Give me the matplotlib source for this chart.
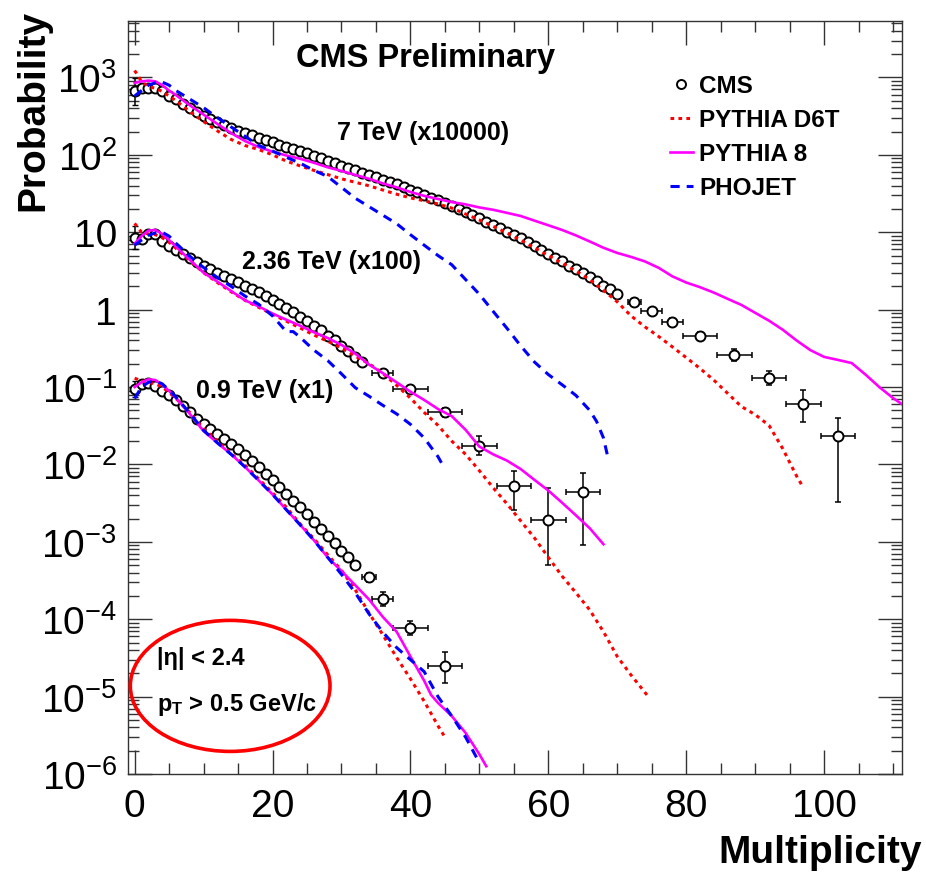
import numpy as np
import matplotlib
matplotlib.use("Agg")
import matplotlib.pyplot as plt
from matplotlib.patches import Ellipse
from matplotlib.ticker import LogLocator, NullFormatter

plt.rcParams["font.family"] = ["Liberation Sans", "DejaVu Sans"]
plt.rcParams["mathtext.fontset"] = "custom"
plt.rcParams["mathtext.rm"] = "Liberation Sans"
plt.rcParams["mathtext.it"] = "Liberation Sans:italic"
plt.rcParams["mathtext.bf"] = "Liberation Sans:bold"

# --- CMS data, 0.9 TeV (x1) ---
p_09 = [0.095, 0.11, 0.113, 0.104, 0.09, 0.079, 0.067, 0.057, 0.048, 0.039,
        0.033, 0.0288, 0.0247, 0.0213, 0.0184, 0.0158, 0.0132, 0.0112, 0.0092, 0.0075,
        0.0062, 0.0051, 0.0041, 0.0034, 0.0028, 0.0023, 0.0018, 0.00146, 0.0012, 0.00097,
        0.00077, 0.00063, 0.0005]
n_09_tail = [34, 36, 40, 45]
p_09_tail = [3.5e-4, 1.85e-4, 7.7e-5, 2.5e-5]
xerr_09_tail = [1, 1.5, 2.5, 2.5]
lo_09_tail = [0.45e-4, 0.35e-4, 1.5e-5, 1.0e-5]
hi_09_tail = [0.5e-4, 0.42e-4, 1.9e-5, 1.3e-5]
err0_09 = (0.0196, 0.0246)

# --- CMS data, 2.36 TeV (x100) ---
p_236 = [8.5, 8.2, 9.6, 9.4, 7.8, 6.7, 5.9, 5.2, 4.6, 4.1,
         3.7, 3.3, 3.0, 2.74, 2.48, 2.25, 2.04, 1.84, 1.67, 1.51,
         1.34, 1.18, 1.05, 0.92, 0.81, 0.71, 0.62, 0.54, 0.46, 0.40,
         0.34, 0.29, 0.245, 0.21]
n_236_tail = [36, 40, 45, 50, 55, 60, 65]
p_236_tail = [0.15, 0.094, 0.047, 0.0175, 0.0052, 0.0019, 0.0044]
xerr_236_tail = [1.5, 2.5, 2.5, 2.5, 2.5, 2.5, 2.5]
lo_236_tail = [0.012, 0.006, 0.006, 0.0042, 0.0026, 0.0014, 0.0035]
hi_236_tail = [0.012, 0.006, 0.006, 0.0056, 0.0031, 0.0031, 0.0034]
err0_236 = (2.5, 3.5)

# --- CMS data, 7 TeV (x10000) ---
p_7 = [660, 725, 740, 725, 660, 575, 525, 455, 400, 355,
       320, 290, 263, 240, 221, 204, 190, 178, 166, 155,
       145, 135, 126, 119, 112, 105, 98, 90, 83, 78,
       72, 68, 63, 59, 55, 51, 48, 45, 42, 38.5,
       35.5, 32.7, 30.2, 27.9, 25.7, 23.7, 21.9, 20.0, 18.2, 16.6,
       15.1, 13.7, 12.4, 11.2, 10.2, 9.2, 8.3, 7.4, 6.6, 5.9,
       5.2, 4.7, 4.2, 3.7, 3.3, 2.95, 2.63, 2.34, 2.04, 1.82,
       1.58]
n_7_tail = [72.5, 75, 78, 82, 87, 92, 97, 102]
p_7_tail = [1.24, 0.97, 0.70, 0.45, 0.26, 0.13, 0.060, 0.023]
xerr_7_tail = [1, 1.5, 1.5, 2.5, 2.5, 2.5, 2.5, 2.5]
lo_7_tail = [0.08, 0.07, 0.07, 0.05, 0.04, 0.025, 0.025, 0.0197]
hi_7_tail = [0.08, 0.08, 0.08, 0.06, 0.05, 0.03, 0.031, 0.017]
err0_7 = (214, 316)

# --- PYTHIA D6T ---
x_d6t_09 = [0, 1, 2, 3, 4, 5, 6] + list(range(8, 45, 2)) + [45]
y_d6t_09 = [0.13, 0.12, 0.115, 0.11, 0.1, 0.085, 0.071, 0.047, 0.029, 0.020,
            0.0138, 0.0098, 0.0065, 0.0043, 0.0028, 0.0017, 0.0011, 6.8e-4, 4.3e-4, 2.4e-4,
            1.2e-4, 6.3e-5, 3.2e-5, 1.7e-5, 8.7e-6, 4.2e-6, 3.0e-6]
x_d6t_236 = [0, 1, 2, 3, 4, 5, 6] + list(range(8, 73, 2)) + [74.5]
y_d6t_236 = [13, 10, 9.5, 9.3, 8.5, 7.4, 6.2, 4.3, 3.0, 2.24,
             1.7, 1.32, 1.07, 0.87, 0.71, 0.58, 0.47, 0.39, 0.32, 0.25,
             0.2, 0.15, 0.105, 0.072, 0.047, 0.032, 0.020, 0.0135, 0.0083, 0.005,
             0.0031, 0.00186, 0.00112, 6.3e-4, 3.6e-4, 2.2e-4, 1.32e-4, 6.9e-5, 3.3e-5, 1.9e-5,
             1.0e-5]
x_d6t_7 = [0, 1, 2, 3, 4, 5, 6] + list(range(8, 97, 2)) + [97]
y_d6t_7 = [1230, 890, 760, 725, 660, 575, 500, 363, 269, 204,
           158, 132, 117, 100, 83, 72, 63, 55.6, 49, 44.2,
           39.8, 35.1, 31.0, 27.8, 25.5, 23.2, 20.5, 17.2, 14.4, 11.9,
           9.8, 7.9, 6.3, 5.0, 4.0, 3.16, 2.45, 1.78, 1.26, 0.83,
           0.60, 0.45, 0.33, 0.24, 0.174, 0.123, 0.083, 0.056, 0.044, 0.032,
           0.016, 0.0071, 0.005]

# --- PYTHIA 8 ---
x_p8_09 = [0, 1, 2, 3, 4, 5, 6] + list(range(8, 43, 2)) + [43, 44, 46, 48, 50, 51]
y_p8_09 = [0.1, 0.115, 0.126, 0.123, 0.107, 0.089, 0.072, 0.045, 0.027, 0.019,
           0.0135, 0.0093, 0.0062, 0.0041, 0.0026, 0.00166, 0.00105, 6.3e-4, 4.2e-4, 2.75e-4,
           1.8e-4, 1.07e-4, 6.9e-5, 3.3e-5, 1.6e-5, 1.05e-5, 8.3e-6, 5.6e-6, 3.4e-6, 1.8e-6,
           1.26e-6]
x_p8_236 = [0, 1, 2, 3, 4, 5, 6] + list(range(8, 69, 2))
y_p8_236 = [7.1, 8.9, 10.5, 10.7, 9.5, 7.9, 6.5, 4.4, 3.0, 2.3,
            1.74, 1.32, 1.1, 0.89, 0.74, 0.62, 0.51, 0.43, 0.35, 0.27,
            0.195, 0.151, 0.115, 0.087, 0.068, 0.052, 0.042, 0.028, 0.017, 0.0135,
            0.0112, 0.0087, 0.0063, 0.0046, 0.0032, 0.0022, 0.0015, 9.3e-4]
x_p8_7 = [0, 1, 2, 3, 4, 5, 6] + list(range(8, 111, 2)) + [111.3]
y_p8_7 = [850, 890, 910, 890, 795, 676, 590, 437, 331, 251,
          191, 151, 126, 110, 98, 89, 79, 69, 62, 55,
          49, 42.7, 38, 33.1, 29.5, 26.9, 24.5, 22.9, 20.9, 19.5,
          17.8, 16.2, 14.1, 12.3, 10.7, 9.1, 7.6, 6.3, 5.4, 4.8,
          4.2, 3.47, 2.69, 2.24, 1.95, 1.66, 1.38, 1.15, 0.91, 0.72,
          0.55, 0.40, 0.30, 0.245, 0.224, 0.204, 0.145, 0.1, 0.072, 0.06]

# --- PHOJET ---
x_pho_09 = [0, 1, 2, 3, 4, 5, 6] + list(range(8, 51, 2))
y_pho_09 = [0.071, 0.1, 0.115, 0.12, 0.11, 0.091, 0.074, 0.046, 0.0275, 0.019,
            0.0135, 0.0093, 0.0062, 0.0041, 0.0026, 0.00166, 0.00105, 6.3e-4, 3.8e-4, 2.2e-4,
            1.17e-4, 6.8e-5, 4.3e-5, 3.0e-5, 2.1e-5, 1.0e-5, 5.6e-6, 3.0e-6, 1.4e-6]
x_pho_236 = [0, 1, 2, 3, 4, 5, 6, 8, 10, 12, 14, 16, 18, 20, 22, 23, 24, 26, 28, 30,
             32, 34, 36, 38, 40, 42, 44, 44.5]
y_pho_236 = [6.8, 7.9, 9.1, 9.8, 10, 8.9, 7.2, 4.9, 3.5, 2.6,
             2.0, 1.5, 1.17, 0.83, 0.52, 0.52, 0.44, 0.30, 0.22, 0.148,
             0.098, 0.076, 0.058, 0.045, 0.033, 0.022, 0.0126, 0.0105]
x_pho_7 = [0, 1, 2, 3, 4, 5, 6] + list(range(8, 67, 2)) + [67, 68, 68.7]
y_pho_7 = [575, 676, 794, 851, 871, 794, 676, 525, 407, 302,
           229, 174, 132, 112, 93, 78, 63, 52.5, 38, 27.5,
           21.4, 16.6, 12.9, 9.3, 6.8, 5.0, 3.8, 2.45, 1.58, 0.95,
           0.575, 0.34, 0.21, 0.145, 0.107, 0.078, 0.05, 0.036, 0.022, 0.0117]

y_ticks = [1e-6, 1e-5, 1e-4, 1e-3, 1e-2, 1e-1, 1, 10, 100, 1000]
y_labels = [r"$10^{-6}$", r"$10^{-5}$", r"$10^{-4}$", r"$10^{-3}$", r"$10^{-2}$",
            r"$10^{-1}$", "1", "10", r"$10^{2}$", r"$10^{3}$"]

fig = plt.figure(figsize=(9.26, 8.79), dpi=100)
ax = fig.add_axes([128 / 926, 104 / 879, 774 / 926, 753 / 879])
ax.set_yscale("log")
ax.set_xlim(-0.96, 111.3)
ax.set_ylim(1e-6, 5360)

mk = dict(marker="o", ms=7.2, mfc="white", mec="black", mew=1.4)


def draw_data(p, n_tail, p_tail, xerr, lo, hi, err0):
    n = np.arange(len(p))
    ax.errorbar(n[:1], p[:1], yerr=[[err0[0]], [err0[1]]], fmt="none",
                ecolor="black", elinewidth=1.1, capsize=2, zorder=2)
    ax.errorbar(n_tail, p_tail, xerr=xerr, yerr=[lo, hi], fmt="none",
                ecolor="black", elinewidth=1.1, capsize=2.5, capthick=1.1, zorder=2)
    ax.plot(n_tail, p_tail, ls="none", zorder=3, **mk)
    h, = ax.plot(n, p, ls="none", zorder=3, **mk)
    return h


h_cms = draw_data(p_7, n_7_tail, p_7_tail, xerr_7_tail, lo_7_tail, hi_7_tail, err0_7)
draw_data(p_236, n_236_tail, p_236_tail, xerr_236_tail, lo_236_tail, hi_236_tail, err0_236)
draw_data(p_09, n_09_tail, p_09_tail, xerr_09_tail, lo_09_tail, hi_09_tail, err0_09)

d6t_style = dict(color="#ff0000", lw=2.2, ls=(0, (1.2, 1.4)), zorder=4)
p8_style = dict(color="#ff00ff", lw=1.9, ls="-", zorder=4)
pho_style = dict(color="#0000ff", lw=2.2, ls=(0, (3.0, 2.3)), zorder=4)

h_d6t, = ax.plot(x_d6t_7, y_d6t_7, **d6t_style)
ax.plot(x_d6t_236, y_d6t_236, **d6t_style)
ax.plot(x_d6t_09, y_d6t_09, **d6t_style)
h_p8, = ax.plot(x_p8_7, y_p8_7, **p8_style)
ax.plot(x_p8_236, y_p8_236, **p8_style)
ax.plot(x_p8_09, y_p8_09, **p8_style)
h_pho, = ax.plot(x_pho_7, y_pho_7, **pho_style)
ax.plot(x_pho_236, y_pho_236, **pho_style)
ax.plot(x_pho_09, y_pho_09, **pho_style)

# axes / ticks, ROOT style
ax.set_xticks(np.arange(0, 101, 20))
ax.set_xticks(np.arange(0, 111, 5), minor=True)
ax.set_yticks(y_ticks, y_labels)
ax.yaxis.set_minor_locator(LogLocator(base=10, subs=np.arange(2, 10)))
ax.yaxis.set_minor_formatter(NullFormatter())
ax.tick_params(which="both", direction="in", top=True, right=True, width=1, color="#333333")
ax.tick_params(which="major", length=17, labelsize=28)
ax.tick_params(which="minor", length=8)
ax.tick_params(axis="x", pad=10)
ax.tick_params(axis="y", pad=8)
for s in ax.spines.values():
    s.set_color("#333333")
    s.set_linewidth(1)

ax.legend([h_cms, h_d6t, h_p8, h_pho], ["CMS", "PYTHIA D6T", "PYTHIA 8", "PHOJET"],
          loc="upper left", bbox_to_anchor=(0.700, 0.929), frameon=False,
          prop=dict(weight="bold", size=17.5), handlelength=0.95, handletextpad=0.25,
          labelspacing=0.45, borderpad=0, borderaxespad=0, numpoints=1, markerscale=0.9)

ax.text(0.384, 0.952, "CMS Preliminary", transform=ax.transAxes, ha="center", va="center",
        fontsize=23.5, fontweight="bold")
ax.text(0.381, 0.852, "7 TeV (x10000)", transform=ax.transAxes, ha="center", va="center",
        fontsize=18, fontweight="bold")
ax.text(0.263, 0.681, "2.36 TeV (x100)", transform=ax.transAxes, ha="center", va="center",
        fontsize=18, fontweight="bold")
ax.text(0.177, 0.510, "0.9 TeV (x1)", transform=ax.transAxes, ha="center", va="center",
        fontsize=18, fontweight="bold")

ax.add_patch(Ellipse((0.132, 0.117), 0.258, 0.174, transform=ax.transAxes,
                     fill=False, edgecolor="#ff0000", lw=2.6, zorder=5))
ax.text(0.0375, 0.155, "|η| < 2.4", transform=ax.transAxes, ha="left", va="center",
        fontsize=17, fontweight="bold")
ax.text(0.0375, 0.093, r"$\mathbf{p_T}$ > 0.5 GeV/c", transform=ax.transAxes, ha="left",
        va="center", fontsize=17, fontweight="bold")

fig.text(43 / 926, 1 - 10 / 879, "Probability", rotation=90, rotation_mode="anchor",
         ha="right", va="baseline", fontsize=28, fontweight="bold")
fig.text(922 / 926, 16 / 879, "Multiplicity", ha="right", va="baseline",
         fontsize=28, fontweight="bold")

fig.savefig("out.png", dpi=100)
plt.close(fig)
